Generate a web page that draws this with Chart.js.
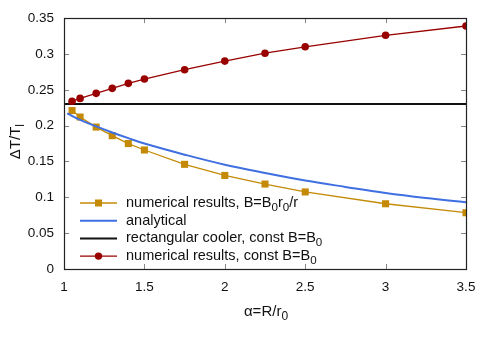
<!DOCTYPE html>
<html>
<head>
<meta charset="utf-8">
<script src="https://cdn.jsdelivr.net/npm/chart.js@4/dist/chart.umd.min.js"></script>
<style>
html,body{margin:0;padding:0;background:#fff;}
#c{display:block;}
</style>
</head>
<body>
<canvas id="c" width="491" height="343"></canvas>
<script>
// ---- data ----
const alphaNum = [1.05, 1.1, 1.2, 1.3, 1.4, 1.5, 1.75, 2, 2.25, 2.5, 3, 3.5];
const numVarB = [0.221, 0.212, 0.198, 0.186, 0.175, 0.166, 0.146, 0.1305, 0.1185, 0.1075, 0.091, 0.0785];
const numConstB = [0.234, 0.238, 0.245, 0.252, 0.259, 0.265, 0.278, 0.290, 0.301, 0.310, 0.326, 0.339];
const alphaAnalytical = [1.02, 1.1, 1.2, 1.3, 1.4, 1.5, 1.75, 2, 2.25, 2.5, 2.75, 3, 3.25, 3.5];
const analytical = [0.217, 0.208, 0.199, 0.1905, 0.1825, 0.175, 0.1595, 0.1455, 0.134, 0.1235, 0.1145, 0.106, 0.099, 0.093];
const alphaRect = [1, 3.5];
const rectCooler = [0.23, 0.23];
const xTicks = [1, 1.5, 2, 2.5, 3, 3.5];
const yTicks = [0, 0.05, 0.1, 0.15, 0.2, 0.25, 0.3, 0.35];

const FONT = "'Liberation Sans', Arial, Helvetica, sans-serif";
const GOLD = '#c48a06';
const BLUE = '#3f6fe0';
const BLACK = '#111111';
const RED = '#990000';

function pts(xs, ys){ return xs.map((x,i)=>({x:x, y:ys[i]})); }

// rich text: array of [text, isSub]
function richWidth(ctx, parts, size){
  let w = 0;
  for (const [t, sub] of parts){
    ctx.font = (sub ? size*0.8 : size) + 'px ' + FONT;
    w += ctx.measureText(t).width;
  }
  return w;
}
function drawRich(ctx, parts, x, y, size){
  let cx = x;
  for (const [t, sub] of parts){
    ctx.font = (sub ? size*0.8 : size) + 'px ' + FONT;
    ctx.fillText(t, cx, sub ? y + size*0.3 : y);
    cx += ctx.measureText(t).width;
  }
}

const legendItems = [
  {parts:[['numerical results, B=B',0],['0',1],['r',0],['0',1],['/r',0]], color:GOLD, lw:1.3, marker:'square'},
  {parts:[['analytical',0]], color:BLUE, lw:2, marker:null},
  {parts:[['rectangular cooler, const B=B',0],['0',1]], color:BLACK, lw:2, marker:null},
  {parts:[['numerical results, const B=B',0],['0',1]], color:RED, lw:1.3, marker:'circle'}
];

const decor = {
  id:'decor',
  afterDraw(chart){
    const ctx = chart.ctx;
    const a = chart.chartArea;
    const xs = chart.scales.x, ys = chart.scales.y;
    ctx.save();
    // inward ticks
    ctx.strokeStyle = '#888';
    ctx.lineWidth = 1;
    ctx.beginPath();
    for (const v of xTicks){
      const px = Math.round(xs.getPixelForValue(v)) + 0.5;
      ctx.moveTo(px, a.bottom); ctx.lineTo(px, a.bottom - 5);
      ctx.moveTo(px, a.top); ctx.lineTo(px, a.top + 5);
    }
    for (const v of yTicks){
      const py = Math.round(ys.getPixelForValue(v)) + 0.5;
      ctx.moveTo(a.left, py); ctx.lineTo(a.left + 5, py);
      ctx.moveTo(a.right, py); ctx.lineTo(a.right - 5, py);
    }
    ctx.stroke();
    // frame
    ctx.strokeStyle = '#222';
    ctx.lineWidth = 1.2;
    ctx.strokeRect(Math.round(a.left)+0.5, Math.round(a.top)+0.5, Math.round(a.right-a.left), Math.round(a.bottom-a.top));
    // axis titles
    ctx.fillStyle = '#111';
    ctx.textBaseline = 'middle';
    ctx.textAlign = 'left';
    const xt = [['α=R/r',0],['0',1]];
    const size = 15;
    const xw = richWidth(ctx, xt, size);
    drawRich(ctx, xt, (a.left + a.right)/2 - xw/2 + 1, 312, size);
    const yt = [['ΔT/T',0],['l',1]];
    const yw = richWidth(ctx, yt, size);
    ctx.save();
    ctx.translate(16, (a.top + a.bottom)/2 - 2);
    ctx.rotate(-Math.PI/2);
    drawRich(ctx, yt, -yw/2, 0, size);
    ctx.restore();
    // legend
    const lx0 = 80, lx1 = 117, tx = 126;
    let ly = 203;
    for (const it of legendItems){
      ctx.strokeStyle = it.color;
      ctx.lineWidth = it.lw;
      ctx.beginPath();
      ctx.moveTo(lx0, ly); ctx.lineTo(lx1, ly);
      ctx.stroke();
      const mx = (lx0 + lx1)/2;
      ctx.fillStyle = it.color;
      if (it.marker === 'square'){
        ctx.fillRect(mx - 3.5, ly - 3.5, 7, 7);
      } else if (it.marker === 'circle'){
        ctx.beginPath(); ctx.arc(mx, ly, 3.7, 0, Math.PI*2); ctx.fill();
      }
      ctx.fillStyle = '#111';
      drawRich(ctx, it.parts, tx, ly, 14.5);
      ly += 17.7;
    }
    ctx.restore();
  }
};

new Chart(document.getElementById('c'), {
  type:'line',
  data:{
    datasets:[
      {label:'numerical results, const B=B0', data:pts(alphaNum, numConstB), borderColor:RED, backgroundColor:RED,
       borderWidth:1.3, pointStyle:'circle', pointRadius:3.8, pointBorderWidth:0, order:0},
      {label:'analytical', data:pts(alphaAnalytical, analytical), borderColor:BLUE, borderWidth:2,
       pointRadius:0, tension:0.4, order:1},
      {label:'numerical results, B=B0r0/r', data:pts(alphaNum, numVarB), borderColor:GOLD, backgroundColor:GOLD,
       borderWidth:1.3, pointStyle:'rect', pointRadius:5, pointBorderWidth:0, order:2},
      {label:'rectangular cooler, const B=B0', data:pts(alphaRect, rectCooler), borderColor:BLACK, borderWidth:2,
       pointRadius:0, order:3}
    ]
  },
  options:{
    responsive:false,
    animation:false,
    devicePixelRatio:1,
    layout:{padding:{top:16, right:25, left:0, bottom:0}},
    plugins:{legend:{display:false}, tooltip:{enabled:false}},
    scales:{
      x:{type:'linear', min:1, max:3.5,
         afterBuildTicks(s){ s.ticks = xTicks.map(v=>({value:v})); },
         afterFit(s){ s.height = 74; },
         grid:{display:false, drawTicks:false}, border:{display:false},
         ticks:{padding:10, color:'#111', font:{family:FONT, size:13.5}, maxRotation:0,
                callback:v=>String(Number(v.toFixed(2)))}},
      y:{type:'linear', min:0, max:0.35,
         afterBuildTicks(s){ s.ticks = yTicks.map(v=>({value:v})); },
         afterFit(s){ s.width = 64; },
         grid:{display:false, drawTicks:false}, border:{display:false},
         ticks:{padding:10, color:'#111', font:{family:FONT, size:13.5},
                callback:v=>String(Number(v.toFixed(2)))}}
    }
  },
  plugins:[decor]
});
</script>
</body>
</html>
